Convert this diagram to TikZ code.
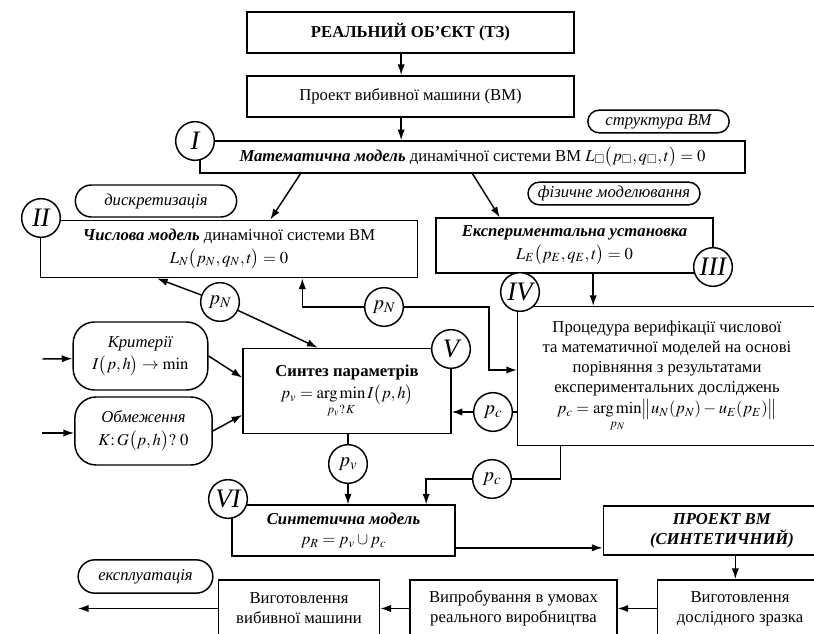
\documentclass[tikz,border=0pt]{standalone}
\usepackage{amssymb}
\usepackage{mathptmx}
\usepackage{fontspec}
\setmainfont{Liberation Serif}
\usetikzlibrary{arrows.meta,shapes.misc}

\begin{document}
\begin{tikzpicture}[x=0.75pt,y=-0.75pt,
  font=\fontsize{12.5}{15}\selectfont, line width=1.1pt,
  box/.style={draw, align=center, inner sep=2pt},
  tag/.style={draw, rounded rectangle, inner sep=0pt, font=\fontsize{12.5}{15}\selectfont\itshape},
  roman/.style={draw, circle, fill=white, minimum size=29pt, inner sep=0pt, font=\fontsize{20}{20}\selectfont\itshape},
  param/.style={draw, circle, fill=white, minimum size=29pt, inner sep=0pt, font=\fontsize{15}{15}\selectfont},
  arr/.style={-{Latex[length=8pt,width=5.5pt]}}]

\useasboundingbox (0,0) rectangle (814,634);
\clip (0,0) rectangle (814,634);

% Top of the chain
\node[box, minimum width=245pt, minimum height=31pt] (A) at (410.5,32.5) {\textbf{РЕАЛЬНИЙ ОБ'ЄКТ (ТЗ)}};
\node[box, minimum width=245pt, minimum height=31pt] (B) at (410.5,96.5) {Проект вибивної машини (ВМ)};
\node[tag, minimum width=106pt, minimum height=17pt] (st) at (658.5,121.5) {структура ВМ};

% Models
\node[box, minimum width=409pt, minimum height=24pt] (M) at (472.5,157)
  {\textbf{\textit{Математична модель}} динамічної системи ВМ $L_{\square}\bigl(p_{\square},q_{\square},t\bigr)=0$};
\node[tag, minimum width=121pt, minimum height=24pt] (dk) at (156,201) {дискретизація};
\node[tag, minimum width=129pt, minimum height=17pt] (fm) at (614,193.5) {фізичне моделювання};
\node[box, minimum width=283pt, minimum height=43pt] (N) at (229,249)
  {\textbf{\textit{Числова модель}} динамічної системи ВМ\\[2pt] $L_N\bigl(p_N,q_N,t\bigr)=0$};
\node[box, minimum width=208pt, minimum height=41pt] (E) at (574.5,245.5)
  {\textbf{\textit{Експериментальна установка}}\\[2pt] $L_E\bigl(p_E,q_E,t\bigr)=0$};

% Verification and synthesis
\node[box, minimum width=224pt, minimum height=104pt] (Ver) at (667,376)
  {Процедура верифікації числової\\ та математичної моделей на основі\\ порівняння з результатами\\ експериментальних досліджень\\[1pt]
   $p_c=\mathop{\mathrm{arg\,min}}\limits_{p_N}\bigl\|u_N(p_N)-u_E(p_E)\bigr\|$};
\node[box, minimum width=156pt, minimum height=64pt] (S) at (347,391)
  {\textbf{Синтез параметрів}\\[2pt] $p_v=\mathop{\mathrm{arg\,min}}\limits_{p_v ?\, K} I\bigl(p,h\bigr)$};
\node[box, rounded corners=16pt, minimum width=101pt, minimum height=51pt] (K1) at (140.5,356)
  {\textit{Критерії}\\[2pt] $I\bigl(p,h\bigr)\rightarrow\min$};
\node[box, rounded corners=16pt, minimum width=103pt, minimum height=51pt] (K2) at (143.5,431)
  {\textit{Обмеження}\\[2pt] $K\colon G\bigl(p,h\bigr)?\ 0$};

% Synthetic model and production
\node[box, minimum width=167pt, minimum height=38pt] (R) at (343.5,530.5)
  {\textbf{\textit{Синтетична модель}}\\ $p_R=p_v\cup p_c$};
\node[box, minimum width=178pt, minimum height=37pt] (P) at (722,530.5)
  {\textbf{\textit{ПРОЕКТ ВМ}}\\ \textbf{\textit{(СИНТЕТИЧНИЙ)}}};
\node[box, minimum width=124pt, minimum height=43pt] (D) at (740,608.5) {Виготовлення\\ дослідного зразка};
\node[box, minimum width=155pt, minimum height=43pt] (T) at (513.5,608.5) {Випробування в умовах\\ реального виробництва};
\node[box, minimum width=121pt, minimum height=43pt] (W) at (299,608.5) {Виготовлення\\ вибивної машини};
\node[tag, minimum width=101pt, minimum height=25pt] (ex) at (145.5,576.5) {експлуатація};
\coordinate (out) at (78,608.5);

% Stage numbers
\node[roman] (I) at (195,141) {I};
\node[roman] (II) at (41,218) {II};
\node[roman] (III) at (713,267) {III};
\node[roman] (IV) at (520,292) {IV};
\node[roman] (V) at (451,349) {V};
\node[roman] (VI) at (228,499) {VI};

% Parameters
\node[param] (pN1) at (220,302) {$p_N$};
\node[param] (pN2) at (384,307) {$p_N$};
\node[param] (pc1) at (493,412) {$p_c$};
\node[param] (pv) at (348,464) {$p_v$};
\node[param] (pc2) at (492,479) {$p_c$};

% Connectors
\draw[arr] ([xshift=-7pt]A.south) -- ([xshift=-7pt]B.north);
\draw[arr] ([xshift=-7pt]B.south) -- ([xshift=-7pt]B.south |- M.north);
\draw[arr] ([xshift=-129pt]M.south) -- ([xshift=31pt]N.north);
\draw[arr] (M.south) -- ([xshift=-56pt]E.north);
\draw[arr] ([xshift=14pt]E.south) -- ([xshift=14pt]E.south |- Ver.north);

\draw[arr] (pN1) -- ([xshift=-54pt]N.south);
\draw[arr] (pN1) -- ([xshift=-22pt]S.north);
\draw[arr] (pN2.west) -| ([xshift=55pt]N.south);
\draw[arr] (pN2.east) -| ([xshift=-21pt,yshift=4.5pt]Ver.west) -- ([yshift=4.5pt]Ver.west);

\draw (Ver.west |- pc1) -- (pc1);
\draw[arr] (pc1) -- (S.east |- pc1);

\draw[arr] (K1.west) ++(-30,3) -- ([yshift=-2pt]K1.west);
\draw[arr] (K2.west) ++(-32,2) -- ([yshift=-1.5pt]K2.west);
\draw[arr] (K1.east) -- ([yshift=10pt]S.west);
\draw[arr] (K2.east) -- ([yshift=-18pt]S.west);

\draw (S.south -| pv) -- (pv);
\draw[arr] (pv) -- (R.north -| pv);
\draw ([xshift=-80pt]Ver.south) |- (pc2.east);
\draw[arr] (pc2.west) -| ([xshift=62pt]R.north);

\draw[arr] ([yshift=-13pt]R.east) -- ([yshift=-13pt]R.east -| P.west);
\draw[arr] ([xshift=10pt]P.south) -- ([xshift=10pt]P.south |- D.north);
\draw[arr] (D.west) -- (T.east);
\draw[arr] (T.west) -- (W.east);
\draw[arr] (W.west) -- (out);

\end{tikzpicture}
\end{document}
